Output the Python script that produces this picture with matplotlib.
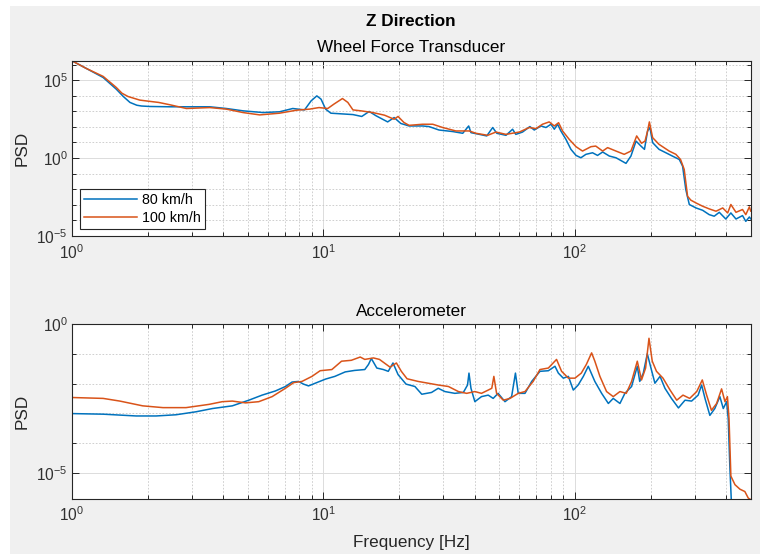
import numpy as np
import matplotlib
matplotlib.use("Agg")
import matplotlib.pyplot as plt
from matplotlib.ticker import FixedLocator, NullFormatter, LogFormatterSciNotation
from matplotlib.patches import Rectangle

plt.rcParams['font.family'] = ['Liberation Sans', 'DejaVu Sans']
plt.rcParams['mathtext.fontset'] = 'custom'
plt.rcParams['mathtext.rm'] = 'Liberation Sans'
plt.rcParams['mathtext.it'] = 'Liberation Sans:italic'
plt.rcParams['mathtext.bf'] = 'Liberation Sans:bold'

# ---------------- data (frequency in Hz, PSD as log10 value) -------------
series_labels = ["80 km/h", "100 km/h"]

wft_80_freq = [1.00, 1.14, 1.33, 1.50, 1.60, 1.70, 1.81, 1.89, 2.04, 2.45, 2.85, 3.53, 4.11, 4.79,
               5.75, 6.69, 7.55, 8.41, 8.93, 9.41, 9.78, 10.2, 10.7, 13.1, 14.2, 15.2, 16.2, 18.0,
               19.1, 20.3, 21.9, 24.8, 26.3, 28.8, 32.7, 35.8, 37.8, 38.6, 41.7, 44.6, 47.1, 48.9,
               53.2, 56.5, 58.2, 61.9, 66.2, 68.9, 73.3, 76.7, 80.3, 82.8, 85.3, 87.9, 92.1, 96.4,
               101, 105.6, 110.6, 117.5, 123, 128.9, 137, 145.6, 159.6, 167, 175, 183, 189, 194.5,
               198.7, 203.7, 216, 230, 244, 260, 268, 276, 285, 303, 322, 342, 358, 375, 398, 417,
               437, 464, 478, 494, 500]
wft_80_log = [6.24, 5.75, 5.17, 4.42, 3.95, 3.57, 3.39, 3.34, 3.31, 3.29, 3.29, 3.29, 3.18, 3.03,
              2.92, 2.97, 3.18, 3.09, 3.67, 3.99, 3.78, 3.14, 2.88, 2.79, 2.67, 2.99, 2.71, 2.32,
              2.60, 2.22, 2.06, 2.06, 2.02, 1.80, 1.70, 1.59, 2.06, 1.63, 1.52, 1.42, 1.96, 1.59,
              1.46, 1.85, 1.52, 1.67, 2.02, 1.80, 2.06, 1.96, 2.17, 1.85, 2.17, 1.74, 1.20, 0.56,
              0.17, 0.02, 0.24, 0.34, 0.17, 0.39, 0.13, 0.02, -0.34, 0.13, 1.09, 0.77, 0.56, 1.74,
              1.96, 0.99, 0.56, 0.34, 0.13, -0.09, -0.52, -2.02, -2.98, -3.20, -3.35, -3.63, -3.73,
              -3.48, -3.91, -3.52, -3.91, -3.69, -4.06, -3.78, -3.90]

wft_100_freq = [1.00, 1.14, 1.33, 1.50, 1.58, 1.67, 1.86, 2.01, 2.21, 2.45, 2.85, 3.53, 4.11, 4.79,
                5.58, 6.69, 7.8, 8.8, 9.6, 10.4, 11.0, 11.9, 12.5, 13.1, 14.1, 15.7, 17.5, 19.1,
                19.8, 20.9, 21.9, 24.8, 27.2, 29.8, 33.6, 38, 40.4, 45, 48.5, 53.2, 60.1, 65.8, 70,
                74.3, 79, 82.8, 86.1, 89.3, 94.9, 101, 107.2, 115.8, 121, 128.9, 134.9, 145.6, 157,
                167, 176, 184, 190, 194.5, 197.7, 203.7, 216, 237, 252, 263, 272, 280.5, 289, 303,
                322, 342, 364, 387, 405, 417, 437, 464, 478, 494, 500]
wft_100_log = [6.24, 5.75, 5.24, 4.53, 4.16, 3.95, 3.72, 3.65, 3.57, 3.42, 3.18, 3.24, 3.14, 2.92,
               2.77, 2.88, 3.07, 3.14, 3.24, 3.18, 3.46, 3.82, 3.57, 3.09, 3.03, 2.92, 2.75, 2.49,
               2.67, 2.28, 2.10, 2.17, 2.17, 1.96, 1.74, 1.74, 1.59, 1.46, 1.67, 1.52, 1.67, 1.96,
               1.89, 2.17, 2.32, 2.06, 2.27, 1.74, 1.20, 0.73, 0.45, 0.73, 0.77, 0.45, 0.67, 0.45,
               0.24, 0.45, 1.42, 0.95, 1.09, 1.74, 2.32, 1.31, 0.88, 0.45, 0.24, -0.09, -0.73,
               -2.45, -2.70, -2.88, -3.09, -3.26, -3.41, -3.20, -3.52, -2.98, -3.48, -3.30, -3.63,
               -3.13, -3.40]

acc_80_freq = [1.00, 1.33, 1.80, 2.16, 2.59, 3.11, 3.62, 4.34, 5.05, 5.70, 6.44, 7.06, 7.50, 7.96,
               8.33, 8.72, 9.27, 10.2, 11.1, 12.2, 13.3, 14.6, 15.1, 15.5, 16.3, 17.3, 18.1, 18.9,
               19.8, 21.3, 23.1, 24.6, 26.9, 28.6, 30.4, 33.3, 36, 37.4, 37.9, 38.6, 40, 42.5, 45.2,
               47.3, 49.5, 52.7, 56, 58, 59.5, 63.3, 67.3, 72.6, 78.4, 83.3, 85.9, 89.9, 94.2, 98.5,
               103, 108, 113, 120, 127.7, 135.8, 142, 151, 158, 168, 177, 181, 187, 194, 200.6, 208,
               218, 228, 242, 258, 274, 291, 309, 319, 329, 344, 360, 377, 389, 401, 407, 413, 420]
acc_80_log = [-3.01, -3.03, -3.09, -3.09, -3.05, -2.95, -2.84, -2.75, -2.56, -2.39, -2.25, -2.10,
              -1.95, -1.93, -2.02, -2.08, -1.99, -1.85, -1.76, -1.61, -1.56, -1.53, -1.36, -1.16,
              -1.48, -1.53, -1.59, -1.31, -1.70, -2.02, -2.10, -2.36, -2.30, -2.16, -2.27, -2.33,
              -2.30, -2.05, -1.65, -2.16, -2.61, -2.44, -2.39, -2.50, -2.33, -2.61, -2.44, -1.65,
              -2.33, -2.33, -1.93, -1.59, -1.57, -1.42, -1.65, -1.82, -1.76, -2.22, -2.05, -1.76,
              -1.42, -1.93, -2.33, -2.67, -2.50, -2.67, -2.33, -2.10, -1.42, -1.93, -1.65, -1.00,
              -1.48, -1.99, -1.76, -2.16, -2.50, -2.82, -2.56, -2.59, -2.39, -2.05, -2.50, -3.07,
              -2.84, -2.44, -2.84, -2.61, -3.18, -4.77, -6.20]

acc_100_freq = [1.00, 1.33, 1.55, 1.91, 2.30, 2.84, 3.51, 3.96, 4.34, 4.90, 5.53, 6.25, 7.06, 7.61,
                8.21, 9.0, 9.70, 10.8, 11.8, 12.9, 14.0, 14.6, 15.8, 16.7, 18.4, 19.5, 20.4, 21.5,
                23.8, 26.1, 28.6, 31.4, 34.4, 37.1, 40, 42.5, 45.2, 46.7, 47.6, 48.8, 51.9, 55.2,
                59.5, 63.3, 68.2, 72.6, 78.4, 84.5, 88.5, 94.2, 100, 106, 111, 116.5, 120, 125.7,
                133.6, 142, 151, 160, 168, 177, 184, 191, 197, 203, 211, 224, 239, 254, 269, 286,
                305, 321, 334, 349, 366, 383, 395, 404, 410, 417, 433, 453, 474, 489, 500]
acc_100_log = [-2.47, -2.50, -2.59, -2.75, -2.81, -2.81, -2.70, -2.61, -2.59, -2.65, -2.61, -2.44,
               -2.16, -1.97, -1.93, -1.76, -1.57, -1.53, -1.25, -1.22, -1.11, -1.19, -1.14, -1.19,
               -1.45, -1.31, -1.59, -1.84, -1.93, -1.99, -2.05, -2.10, -2.27, -2.33, -2.27, -2.33,
               -2.22, -2.16, -1.76, -2.33, -2.56, -2.50, -2.33, -2.27, -1.93, -1.53, -1.48, -1.19,
               -1.59, -1.82, -1.82, -1.65, -1.36, -0.97, -1.25, -1.76, -2.27, -2.44, -2.27, -2.33,
               -1.93, -1.25, -1.88, -1.48, -0.48, -1.25, -1.59, -1.82, -2.22, -2.56, -2.39, -2.50,
               -2.27, -1.88, -2.39, -2.90, -2.67, -2.18, -2.61, -2.44, -3.18, -5.11, -5.40, -5.55,
               -5.63, -5.85, -5.90]

x_limits = (1, 500)
x_major_ticks = [1, 10, 100]
top_ylim_log = (-5, 6.26)
bottom_ylim_log = (-5.87, 0)
top_major_log = [-5, 0, 5]
bottom_major_log = [-5, 0]

# ---------------- style ----------------
W, H = 767, 554
blue = '#0072BD'
orange = '#D95319'
axis_col = '#262626'
tick_lbl_col = '#303030'

fig = plt.figure(figsize=(W / 100, H / 100), dpi=100, facecolor='white')
fig.patches.append(Rectangle((10 / W, 0), (760 - 10) / W, (H - 6) / H, transform=fig.transFigure,
                             facecolor='#F0F0F0', edgecolor='none', zorder=-10))


def px_axes(x0, y0, x1, y1):
    return fig.add_axes([x0 / W, 1 - y1 / H, (x1 - x0) / W, (y1 - y0) / H])


ax1 = px_axes(72, 60.5, 750.7, 236)
ax2 = px_axes(72, 324, 750.7, 498.7)


def style(ax, ylog, majors):
    ax.set_xscale('log')
    ax.set_yscale('log')
    ax.set_xlim(*x_limits)
    ax.set_ylim(10.0 ** ylog[0], 10.0 ** ylog[1])
    ax.set_facecolor('white')
    xminor = [m * d for d in (1, 10, 100) for m in range(2, 10) if m * d < x_limits[1]]
    ax.xaxis.set_major_locator(FixedLocator(x_major_ticks))
    ax.xaxis.set_minor_locator(FixedLocator(xminor))
    ax.xaxis.set_major_formatter(LogFormatterSciNotation())
    ax.xaxis.set_minor_formatter(NullFormatter())
    ymaj = [10.0 ** e for e in majors]
    ymin = [10.0 ** e for e in range(int(np.floor(ylog[0])), int(np.ceil(ylog[1])) + 1) if e not in majors]
    ax.yaxis.set_major_locator(FixedLocator(ymaj))
    ax.yaxis.set_minor_locator(FixedLocator(ymin))
    ax.yaxis.set_major_formatter(LogFormatterSciNotation())
    ax.yaxis.set_minor_formatter(NullFormatter())
    ax.grid(True, which='major', color='#DCDCDC', linestyle='-', linewidth=0.7)
    ax.grid(True, which='minor', color='#C8C8C8', linestyle=(0, (2, 2)), linewidth=0.6)
    ax.set_axisbelow(True)
    ax.tick_params(which='both', direction='in', top=True, right=True, color=axis_col,
                   labelcolor=tick_lbl_col, labelsize=11.2, width=0.7)
    ax.tick_params(which='major', length=5)
    ax.tick_params(which='minor', length=3)
    ax.tick_params(axis='x', which='major', pad=5)
    ax.tick_params(axis='y', which='major', pad=3)
    for s in ax.spines.values():
        s.set_color(axis_col)
        s.set_linewidth(0.8)
    ax.set_ylabel('PSD', fontsize=12.3, color=axis_col)
    ax.yaxis.set_label_coords(-0.062, 0.5)


style(ax1, top_ylim_log, top_major_log)
style(ax2, bottom_ylim_log, bottom_major_log)

ax1.plot(wft_80_freq, np.power(10.0, wft_80_log), color=blue, lw=1.1, label=series_labels[0])
ax1.plot(wft_100_freq, np.power(10.0, wft_100_log), color=orange, lw=1.1, label=series_labels[1])
ax2.plot(acc_80_freq, np.power(10.0, acc_80_log), color=blue, lw=1.1)
ax2.plot(acc_100_freq, np.power(10.0, acc_100_log), color=orange, lw=1.1)

leg = ax1.legend(loc='lower left', bbox_to_anchor=((80 - 72) / 678.7, (236 - 229) / 175.5),
                 borderaxespad=0, fancybox=False, edgecolor=axis_col, framealpha=1,
                 fontsize=10.3, handlelength=3.7, handletextpad=0.3, labelspacing=0.25,
                 borderpad=0.3)
leg.get_frame().set_linewidth(0.8)

ax2.set_xlabel('Frequency [Hz]', fontsize=12.3, color=axis_col)
ax2.xaxis.set_label_coords(0.5, -(535 - 498.7) / 174.7)
ax2.xaxis.label.set_va('top')

fig.text(411 / W, 1 - 21 / H, 'Z Direction', ha='center', va='center', fontsize=12.3,
         fontweight='bold', color='black')
fig.text(411 / W, 1 - 48 / H, 'Wheel Force Transducer', ha='center', va='center', fontsize=12.3,
         color='black')
fig.text(411 / W, 1 - 311 / H, 'Accelerometer', ha='center', va='center', fontsize=12.3,
         color='black')

fig.savefig('out.png', dpi=100, facecolor=fig.get_facecolor())
